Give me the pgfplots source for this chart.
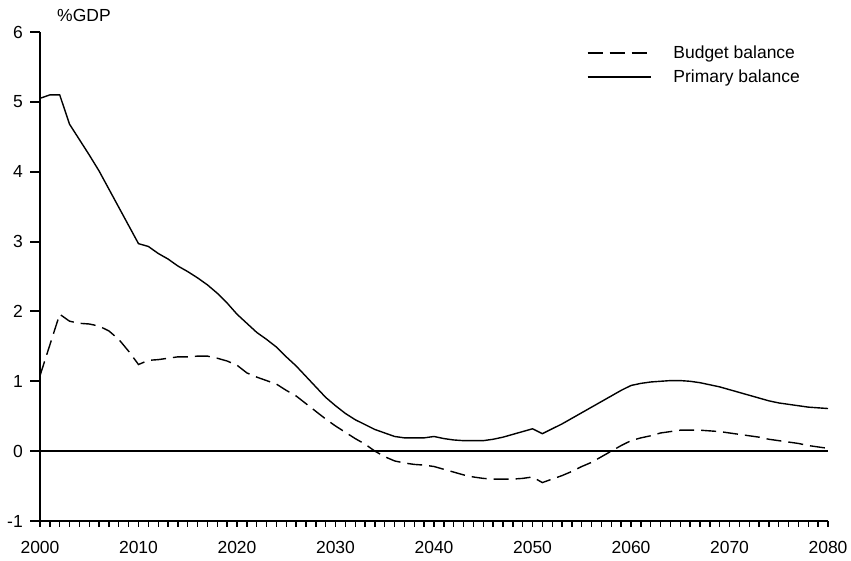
\documentclass[border=0pt]{standalone}
\usepackage{pgfplots}
\pgfplotsset{compat=1.18}
\usepackage{fontspec}
\setmainfont{Liberation Sans}

\pgfplotstableread{
year primary budget
2000 5.05 1.08
2001 5.10 1.52
2002 5.10 1.96
2003 4.68 1.86
2004 4.46 1.83
2005 4.24 1.82
2006 4.01 1.79
2007 3.75 1.72
2008 3.49 1.60
2009 3.23 1.43
2010 2.97 1.24
2011 2.93 1.30
2012 2.83 1.31
2013 2.75 1.33
2014 2.65 1.35
2015 2.57 1.35
2016 2.48 1.36
2017 2.38 1.36
2018 2.26 1.33
2019 2.12 1.29
2020 1.96 1.23
2021 1.83 1.12
2022 1.70 1.06
2023 1.60 1.01
2024 1.49 0.96
2025 1.35 0.87
2026 1.22 0.79
2027 1.07 0.68
2028 0.92 0.57
2029 0.77 0.46
2030 0.65 0.36
2031 0.54 0.27
2032 0.45 0.18
2033 0.38 0.10
2034 0.31 0.00
2035 0.26 -0.08
2036 0.21 -0.14
2037 0.19 -0.17
2038 0.19 -0.19
2039 0.19 -0.20
2040 0.21 -0.22
2041 0.18 -0.26
2042 0.16 -0.30
2043 0.15 -0.34
2044 0.15 -0.37
2045 0.15 -0.39
2046 0.17 -0.40
2047 0.20 -0.40
2048 0.24 -0.40
2049 0.28 -0.39
2050 0.32 -0.37
2051 0.25 -0.45
2052 0.32 -0.40
2053 0.39 -0.35
2054 0.47 -0.29
2055 0.55 -0.22
2056 0.63 -0.16
2057 0.71 -0.08
2058 0.79 0.00
2059 0.87 0.08
2060 0.94 0.15
2061 0.97 0.19
2062 0.99 0.22
2063 1.00 0.26
2064 1.01 0.28
2065 1.01 0.30
2066 1.00 0.30
2067 0.98 0.30
2068 0.95 0.29
2069 0.92 0.28
2070 0.88 0.26
2071 0.84 0.24
2072 0.80 0.22
2073 0.76 0.20
2074 0.72 0.17
2075 0.69 0.15
2076 0.67 0.13
2077 0.65 0.11
2078 0.63 0.08
2079 0.62 0.06
2080 0.61 0.04
}\balance

\begin{document}
\begin{tikzpicture}
\begin{axis}[
  scale only axis,
  width=788bp, height=489bp,
  xmin=2000, xmax=2080, ymin=-1, ymax=6,
  axis x line*=bottom, axis y line*=left,
  axis line style={line width=2bp, -},
  tick align=outside,
  font=\fontsize{17.5bp}{20bp}\selectfont,
  /pgf/number format/assume math mode=true,
  /pgf/number format/1000 sep={},
  xtick={2000,2010,...,2080},
  major x tick style={draw=none},
  minor xtick={2000,2001,...,2080},
  minor tick length=5.5bp,
  minor x tick style={line width=1.4bp, black},
  ytick={-1,0,...,6},
  major tick length=10bp,
  ytick style={line width=2bp, black},
  xticklabel style={anchor=north, inner sep=0pt, yshift=-10bp},
  yticklabel style={anchor=east, inner sep=0pt, xshift=-7bp},
  clip=false,
  legend style={draw=none, fill=none, inner sep=0pt, outer sep=0pt,
    at={(axis cs:2055.53,5.526)}, anchor=west,
    nodes={inner sep=0pt}, row sep=10bp,
    /tikz/every odd column/.append style={column sep=22bp},
    font=\fontsize{17.5bp}{20bp}\selectfont},
  legend cell align=left,
  legend image code/.code={\draw[#1] (0bp,0bp) -- (63bp,0bp);},
]
\addplot[black, line width=1.4bp, dash pattern=on 15bp off 7bp] table[x=year, y=budget] {\balance};
\addlegendentry{Budget balance}
\addplot[black, line width=1.4bp] table[x=year, y=primary] {\balance};
\addlegendentry{Primary balance}
\addplot[black, line width=2bp, forget plot] coordinates {(2000,0) (2080,0)};
\node[anchor=west, inner sep=0pt] at (axis cs:2001.73,6.23) {\%GDP};
\end{axis}
\pgfresetboundingbox
\useasboundingbox ([shift={(-40bp,-40bp)}]current axis.south west) rectangle ([shift={(23bp,32bp)}]current axis.north east);
\end{tikzpicture}
\end{document}
